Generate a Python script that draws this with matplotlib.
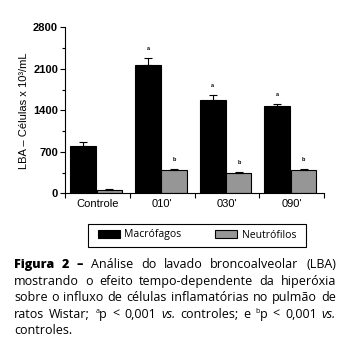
import numpy as np
import matplotlib
matplotlib.use("Agg")
import matplotlib.pyplot as plt
from matplotlib.patches import Rectangle

groups = ["Controle", "010'", "030'", "090'"]
macrofagos = [800, 2160, 1570, 1470]
macrofagos_err = [60, 130, 95, 30]
neutrofilos = [50, 400, 340, 395]
neutrofilos_err = [20, 15, 15, 15]
macro_marks = ["", "a", "a", "a"]
neutro_marks = ["", "b", "b", "b"]
yticks = [0, 700, 1400, 2100, 2800]

caption_lines = [
    "*Figura* *2* *–* Análise do lavado broncoalveolar (LBA)",
    "mostrando o efeito tempo-dependente da hiperóxia",
    "sobre o influxo de células inflamatórias no pulmão de",
    "ratos Wistar; ^ap < 0,001 _vs._ controles; e ^bp < 0,001 _vs._",
    "controles.",
]

plt.rcParams['font.family'] = ['Liberation Sans', 'DejaVu Sans']

W, H = 346, 351
fig = plt.figure(figsize=(W / 100, H / 100), dpi=100)
ax = fig.add_axes([65 / W, 1 - 193.3 / H, 259 / W, 166 / H])

x = np.arange(len(groups))
ax.bar(x - 0.22, macrofagos, width=0.4, color="black", edgecolor="black",
       linewidth=0.8, label="Macrófagos")
ax.bar(x + 0.185, neutrofilos, width=0.39, color="#969696", edgecolor="black",
       linewidth=0.8, label="Neutrófilos")
ax.errorbar(x - 0.22, macrofagos, yerr=[np.zeros(4), macrofagos_err], fmt="none",
            ecolor="black", elinewidth=0.8, capsize=3, capthick=0.8)
ax.errorbar(x + 0.185, neutrofilos, yerr=[np.zeros(4), neutrofilos_err], fmt="none",
            ecolor="black", elinewidth=0.8, capsize=3, capthick=0.8)

for i in range(len(groups)):
    if macro_marks[i]:
        ax.annotate(macro_marks[i], (x[i] - 0.22, macrofagos[i] + macrofagos_err[i]),
                    xytext=(0, 5), textcoords="offset points", ha="center",
                    va="bottom", fontsize=4, fontweight="bold")
    if neutro_marks[i]:
        ax.annotate(neutro_marks[i], (x[i] + 0.185, neutrofilos[i] + neutrofilos_err[i]),
                    xytext=(0, 5), textcoords="offset points", ha="center",
                    va="bottom", fontsize=4, fontweight="bold")

ax.set_xlim(-0.5, len(groups) - 0.5)
ax.set_ylim(0, 2800)
ax.set_yticks(yticks)
ax.set_yticks(np.arange(350, 2800, 700), minor=True)
ax.set_xticks(np.arange(-0.5, len(groups), 1))
ax.set_xticklabels([])
ax.set_xticks(x, minor=True)
ax.set_xticklabels(groups, minor=True, fontsize=8)
ax.tick_params(axis="x", which="minor", length=0, pad=4)
ax.tick_params(axis="x", which="major", length=3.5, width=0.8, direction="out")
ax.tick_params(axis="y", which="major", length=3.5, width=0.8, labelsize=8, pad=1.5)
ax.tick_params(axis="y", which="minor", length=2, width=0.8)
for lab in ax.get_yticklabels():
    lab.set_fontweight("bold")
ax.spines["top"].set_visible(False)
ax.spines["right"].set_visible(False)
ax.spines["left"].set_linewidth(0.8)
ax.spines["bottom"].set_linewidth(0.8)
ax.set_ylabel("LBA – Células x 10³/mL", fontsize=8, labelpad=3)

leg = fig.legend(loc="center", bbox_to_anchor=(197 / W, 1 - 235 / H), ncol=2,
                 prop={"family": "Open Sans", "size": 7.5},
                 frameon=False, handlelength=2.1, handleheight=0.85,
                 columnspacing=3.2, handletextpad=0.45, borderpad=0.3,
                 borderaxespad=0)
# legend frame drawn a bit wider than matplotlib's own padding allows
fig.patches.append(Rectangle((88 / W, 1 - 246.5 / H), 218 / W, 23 / H,
                             transform=fig.transFigure, fill=False,
                             edgecolor="black", linewidth=0.8))

# justified caption
renderer = fig.canvas.get_renderer()
x0, x1 = 14, 336
fs = 9.0
cap_font = "Open Sans"


def runs_of(word):
    if word.startswith("*") and word.endswith("*"):
        return [(word[1:-1], dict(fontweight="heavy", fontsize=fs))]
    if word.startswith("_") and word.endswith("_"):
        return [(word[1:-1], dict(fontstyle="italic", fontsize=fs))]
    if word.startswith("^"):
        return [(word[1], dict(fontsize=5, sup=True)), (word[2:], dict(fontsize=fs))]
    return [(word, dict(fontsize=fs))]


for li, line in enumerate(caption_lines):
    y_px = 268 + li * 16.6
    words = line.split(" ")
    placed = []
    total = 0
    for w in words:
        items = []
        wd = 0
        for txt, props in runs_of(w):
            props = dict(props)
            sup = props.pop("sup", False)
            t = fig.text(0, 0, txt, va="baseline", ha="left", family=cap_font, **props)
            bb = t.get_window_extent(renderer)
            items.append((t, wd, sup))
            wd += bb.width
        placed.append((items, wd))
        total += wd
    if li < len(caption_lines) - 1:
        gap = (x1 - x0 - total) / (len(words) - 1)
    else:
        gap = 3.5
    cx = x0
    for items, wd in placed:
        for t, off, sup in items:
            yy = y_px - (4.5 if sup else 0)
            t.set_position(((cx + off) / W, 1 - yy / H))
        cx += wd + gap

fig.savefig("out.png", dpi=100)
